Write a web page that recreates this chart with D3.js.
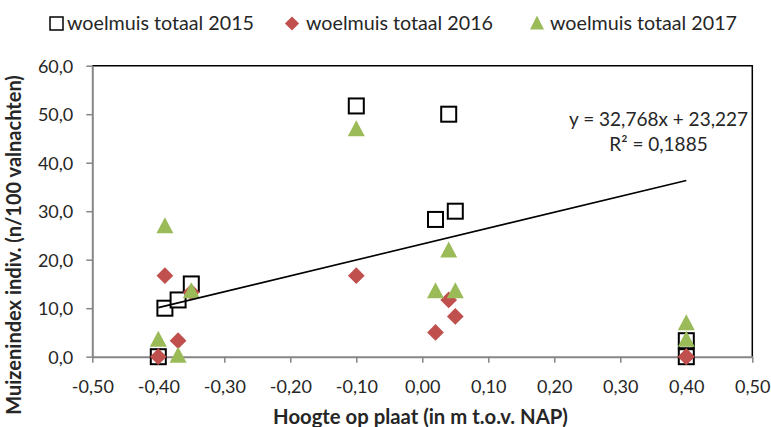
<!DOCTYPE html>
<html><head><meta charset="utf-8">
<script src="https://cdn.jsdelivr.net/npm/d3@7"></script>
<style>body{margin:0;background:#fff} svg{display:block;font-family:Lato,"Open Sans",sans-serif}</style>
</head><body><svg id="c" width="771" height="427"></svg>
<script>
// ---- data ----
const seriesNames = ["woelmuis totaal 2015", "woelmuis totaal 2016", "woelmuis totaal 2017"];
const heights = [-0.40, -0.39, -0.37, -0.35, -0.10, 0.02, 0.04, 0.05, 0.40, 0.40];
const values2015 = [0, 10, 11.7, 15, 51.7, 28.3, 50, 30, 3.3, 0];
const values2016 = [0, 16.7, 3.3, 13.3, 16.7, 5, 11.7, 8.3, 0, 0];
const values2017 = [3.3, 26.7, 0, 13.3, 46.7, 13.3, 21.7, 13.3, 6.7, 3.3];
const xTicks = [-0.5, -0.4, -0.3, -0.2, -0.1, 0, 0.1, 0.2, 0.3, 0.4, 0.5];
const yTicks = [0, 10, 20, 30, 40, 50, 60];
const trendSlope = 32.768, trendIntercept = 23.227, trendR2 = 0.1885;
const trendRange = [-0.40, 0.40];
const xTitle = "Hoogte op plaat (in m t.o.v. NAP)";
const yTitle = "Muizenindex indiv. (n/100 valnachten)";

const fmt = (d, n) => d.toFixed(n).replace(".", ",");
const svg = d3.select("#c");
const L = 92.3, R = 752.3, T = 65.7, B = 356.7;
const x = d3.scaleLinear().domain([-0.5, 0.5]).range([L, R]);
const y = d3.scaleLinear().domain([0, 60]).range([B, T]);
const txt = "#262626";

function fit(sel, w) {
  const n = sel.node(); const fs = parseFloat(sel.attr("font-size"));
  const cur = n.getComputedTextLength();
  sel.attr("font-size", (fs * w / cur).toFixed(2));
}

// plot border (top & right)
svg.append("path").attr("d", `M${L},${T}H${R}V${B}`).attr("fill", "none").attr("stroke", "#000").attr("stroke-width", 1.5);

// axes
const xAxis = svg.append("g").attr("transform", `translate(0,${B})`)
  .call(d3.axisBottom(x).tickValues(xTicks).tickSize(6).tickSizeOuter(0).tickFormat(d => fmt(d, 2)));
const yAxis = svg.append("g").attr("transform", `translate(${L},0)`)
  .call(d3.axisLeft(y).tickValues(yTicks).tickSize(6).tickSizeOuter(0).tickFormat(d => fmt(d, 1)));
[xAxis, yAxis].forEach(g => {
  g.select(".domain").attr("stroke", "#868686").attr("stroke-width", 2);
  g.selectAll(".tick line").attr("stroke", "#868686").attr("stroke-width", 1.5);
  g.selectAll("text").attr("fill", txt).attr("font-family", "Lato").attr("font-size", 18);
});
xAxis.selectAll("text").attr("dy", null).attr("y", 36);
yAxis.selectAll("text").attr("x", -19).attr("dy", "0.35em");

// markers
const pts = (vals) => heights.map((h, i) => ({x: h, y: vals[i]}));
svg.append("g").selectAll("rect").data(pts(values2015)).join("rect")
  .attr("x", d => x(d.x) - 7.5).attr("y", d => y(d.y) - 7.5)
  .attr("width", 15).attr("height", 15).attr("fill", "#fff").attr("stroke", "#000").attr("stroke-width", 2);
svg.append("g").selectAll("path").data(pts(values2016)).join("path")
  .attr("transform", d => `translate(${x(d.x)},${y(d.y)}) rotate(45)`)
  .attr("d", d3.symbol().type(d3.symbolSquare).size(140)()).attr("fill", "#C0504D");
const triPath = (() => { const h = 16, w = 17; return `M0,${-h*0.62}L${w/2},${h*0.38}L${-w/2},${h*0.38}Z`; })();
svg.append("g").selectAll("path").data(pts(values2017)).join("path")
  .attr("transform", d => `translate(${x(d.x)},${y(d.y)})`)
  .attr("d", triPath).attr("fill", "#9BBB59");

// trendline
svg.append("line")
  .attr("x1", x(trendRange[0])).attr("y1", y(trendSlope * trendRange[0] + trendIntercept))
  .attr("x2", x(trendRange[1])).attr("y2", y(trendSlope * trendRange[1] + trendIntercept))
  .attr("stroke", "#000").attr("stroke-width", 1.6);

// equation
const eq = svg.append("text").attr("x", 658.5).attr("y", 126).attr("text-anchor", "middle")
  .attr("fill", txt).attr("font-size", 18).text(`y = ${fmt(trendSlope, 3)}x + ${fmt(trendIntercept, 3)}`);
fit(eq, 179);
svg.append("text").attr("x", 658.5).attr("y", 151).attr("text-anchor", "middle")
  .attr("fill", txt).attr("font-size", eq.attr("font-size")).text(`R² = ${fmt(trendR2, 4)}`);

// axis titles
const xt = svg.append("text").attr("x", 420.5).attr("y", 424).attr("text-anchor", "middle")
  .attr("font-weight", "bold").attr("fill", txt).attr("font-size", 18).text(xTitle);
fit(xt, 295);
const yt = svg.append("text").attr("transform", "translate(21,245) rotate(-90)").attr("text-anchor", "middle")
  .attr("font-weight", "bold").attr("fill", txt).attr("font-size", 18).text(yTitle);
fit(yt, 340);

// legend
const legX = [67, 306, 550];
const leg = svg.append("g");
seriesNames.forEach((n, i) => {
  const t = leg.append("text").attr("x", legX[i]).attr("y", 30).attr("fill", txt).attr("font-size", 18).text(n);
  fit(t, 187);
});
leg.append("rect").attr("x", 50).attr("y", 17).attr("width", 13).attr("height", 13)
  .attr("fill", "#fff").attr("stroke", "#000").attr("stroke-width", 1.5);
leg.append("path").attr("transform", "translate(292,23.5) rotate(45)")
  .attr("d", d3.symbol().type(d3.symbolSquare).size(100)()).attr("fill", "#C0504D");
leg.append("path").attr("transform", "translate(537,23.5)")
  .attr("d", "M0,-8L7,6L-7,6Z").attr("fill", "#9BBB59");
</script></body></html>
